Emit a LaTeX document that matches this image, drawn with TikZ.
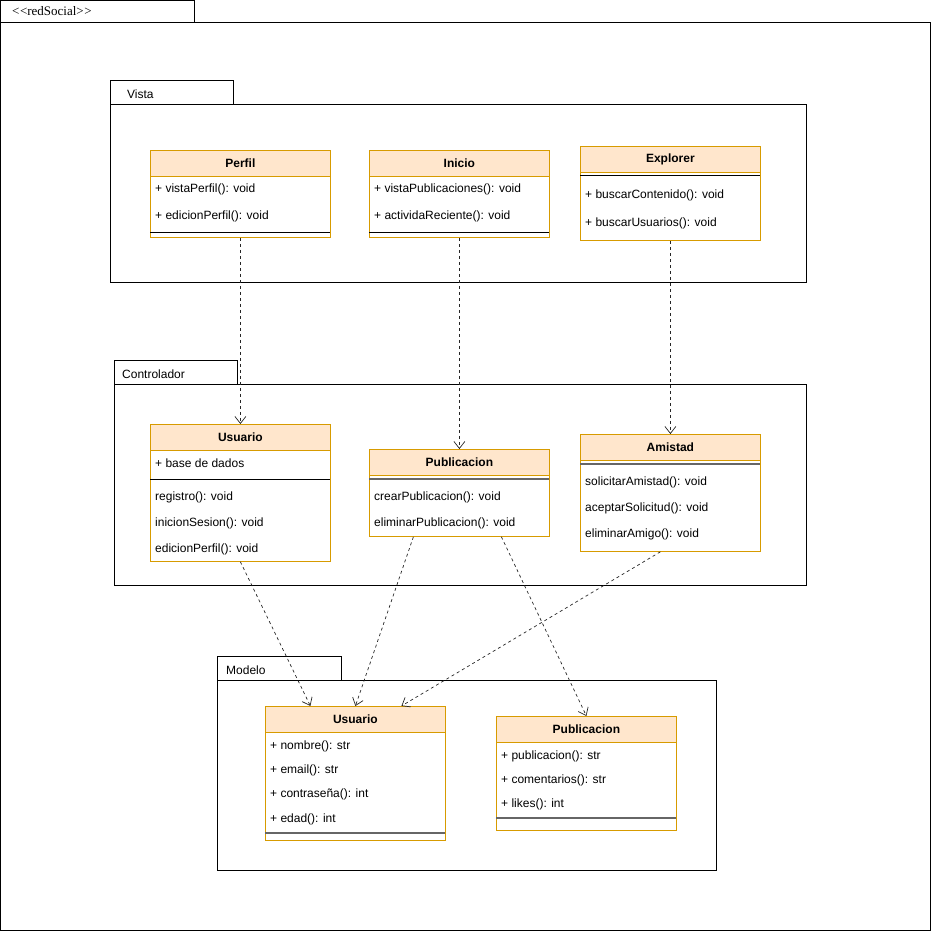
\documentclass[tikz,border=0pt]{standalone}
\usepackage{fontspec}
\setmainfont{Liberation Sans}
\newfontfamily\stereofont{Liberation Serif}
\usetikzlibrary{arrows.meta,calc}
\definecolor{hdrfill}{HTML}{FFE6CC}
\definecolor{hdrline}{HTML}{D79B00}
\definecolor{sepgray}{HTML}{666666}

\begin{document}
\begin{tikzpicture}[x=1pt,y=-1pt,
  pkg/.style={draw=black, line width=0.8pt},
  pkglabel/.style={anchor=west, inner sep=0},
  box/.style={draw=hdrline, fill=white, rectangle, anchor=north west, inner sep=0,
    minimum width=180pt, line width=0.8pt},
  hdr/.style={draw=hdrline, fill=hdrfill, rectangle, anchor=north west, inner sep=0,
    minimum width=180pt, minimum height=26pt, font=\fontsize{12}{14}\selectfont\bfseries, line width=0.8pt},
  row/.style={anchor=west, inner sep=0, text height=8.5pt, text depth=2.5pt, yshift=-1.5pt},
  sep/.style={draw=black, line width=1pt},
  sepg/.style={draw=sepgray, line width=1.6pt},
  dep/.style={draw=black!85, line width=0.7pt, dash pattern=on 3pt off 3pt,
    -{Straight Barb[length=7pt,width=11pt]}},
  font=\fontsize{12}{14}\selectfont]

\useasboundingbox (0,0) rectangle (931,932);

% outer package
\draw[pkg] (0.5,0.5) rectangle (194,22);
\draw[pkg] (0.5,22) rectangle (930,930);
\node[pkglabel, font=\stereofont\fontsize{13}{15}\selectfont] (pkgroot) at (12,11)
  {<\kern0.5pt<redSocial>\kern0.5pt>};

% Vista package
\draw[pkg] (110.5,80.5) rectangle (233,104);
\draw[pkg] (110.5,104) rectangle (806,282);
\node[pkglabel] (pkgvista) at (127,94) {Vista};

% Controlador package
\draw[pkg] (114.5,360.5) rectangle (237,384);
\draw[pkg] (114.5,384) rectangle (806,585);
\node[pkglabel] (pkgctrl) at (122,374) {Controlador};

% Modelo package
\draw[pkg] (217.5,656.5) rectangle (341,680);
\draw[pkg] (217.5,680) rectangle (716,870);
\node[pkglabel] (pkgmodel) at (226,670) {Modelo};

% ---- Vista classes ----
\node[box, minimum height=87pt] (perfil) at (150,150) {};
\node[hdr] (perfilh) at (150,150) {Perfil};
\node[row] (perfil1) at (155,188) {+ vistaPerfil(): void};
\node[row] (perfil2) at (155,215) {+ edicionPerfil(): void};
\draw[sep] (150,232) -- (330,232);

\node[box, minimum height=87pt] (inicio) at (369,150) {};
\node[hdr] (inicioh) at (369,150) {Inicio};
\node[row] (inicio1) at (374,188) {+ vistaPublicaciones(): void};
\node[row] (inicio2) at (374,215) {+ actividaReciente(): void};
\draw[sep] (369,232) -- (549,232);

\node[box, minimum height=94pt] (explorer) at (580,146) {};
\node[hdr] (explorerh) at (580,146) {Explorer};
\draw[sep] (580,175.5) -- (760,175.5);
\node[row] (explorer1) at (585,194) {+ buscarContenido(): void};
\node[row] (explorer2) at (585,222) {+ buscarUsuarios(): void};

% ---- Controlador classes ----
\node[box, minimum height=137pt] (cusu) at (150,424) {};
\node[hdr] (cusuh) at (150,424) {Usuario};
\node[row] (cusu0) at (155,463) {+ base de dados};
\draw[sep] (150,479) -- (330,479);
\node[row] (cusu1) at (155,496) {registro(): void};
\node[row] (cusu2) at (155,522) {inicionSesion(): void};
\node[row] (cusu3) at (155,548) {edicionPerfil(): void};

\node[box, minimum height=87pt] (cpub) at (369,449) {};
\node[hdr] (cpubh) at (369,449) {Publicacion};
\draw[sepg] (369,479) -- (549,479);
\node[row] (cpub1) at (374,496) {crearPublicacion(): void};
\node[row] (cpub2) at (374,522) {eliminarPublicacion(): void};

\node[box, minimum height=117pt] (amis) at (580,434) {};
\node[hdr] (amish) at (580,434) {Amistad};
\draw[sepg] (580,464) -- (760,464);
\node[row] (amis1) at (585,481) {solicitarAmistad(): void};
\node[row] (amis2) at (585,507) {aceptarSolicitud(): void};
\node[row] (amis3) at (585,533) {eliminarAmigo(): void};

% ---- Modelo classes ----
\node[box, minimum height=134pt] (musu) at (265,706) {};
\node[hdr] (musuh) at (265,706) {Usuario};
\node[row] (musu1) at (270,745) {+ nombre(): str};
\node[row] (musu2) at (270,769) {+ email(): str};
\node[row] (musu3) at (270,793) {+ contraseña(): int};
\node[row] (musu4) at (270,818) {+ edad(): int};
\draw[sepg] (265,833) -- (445,833);

\node[box, minimum height=114pt] (mpub) at (496,716) {};
\node[hdr] (mpubh) at (496,716) {Publicacion};
\node[row] (mpub1) at (501,755) {+ publicacion(): str};
\node[row] (mpub2) at (501,779) {+ comentarios(): str};
\node[row] (mpub3) at (501,803) {+ likes(): int};
\draw[sepg] (496,818) -- (676,818);

% ---- dependencies ----
\draw[dep] (perfil.south) -- (cusuh.north);
\draw[dep] (inicio.south) -- (cpubh.north);
\draw[dep] (explorer.south) -- (amish.north);
\draw[dep] (cusu.south) -- ([xshift=-45pt]musuh.north);
\draw[dep] ([xshift=-46pt]cpub.south) -- (musuh.north);
\draw[dep] ([xshift=42pt]cpub.south) -- (mpubh.north);
\draw[dep] ([xshift=-10pt]amis.south) -- ([xshift=46pt]musuh.north);

\end{tikzpicture}
\end{document}
